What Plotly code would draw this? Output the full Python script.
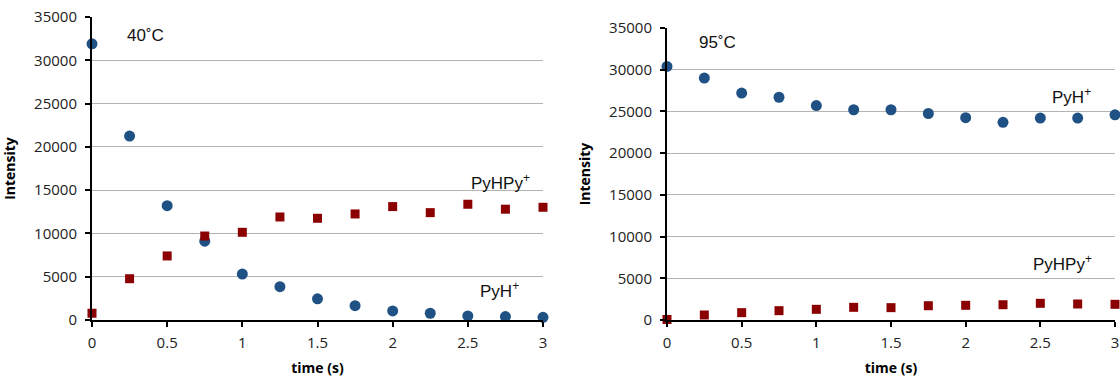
import plotly.graph_objects as go

time = [0, 0.25, 0.5, 0.75, 1, 1.25, 1.5, 1.75, 2, 2.25, 2.5, 2.75, 3]

pyh_40 = [31900, 21250, 13200, 9100, 5300, 3850, 2450, 1650, 1050, 780, 470, 390, 310]
pyhpy_40 = [780, 4770, 7400, 9700, 10130, 11900, 11750, 12250, 13100, 12400, 13370, 12800, 13020]

pyh_95 = [30400, 29000, 27200, 26700, 25700, 25200, 25200, 24750, 24250, 23700, 24200, 24200, 24600]
pyhpy_95 = [60, 600, 880, 1120, 1280, 1520, 1480, 1710, 1760, 1830, 2000, 1920, 1880]

x_ticks = [0, 0.5, 1, 1.5, 2, 2.5, 3]
x_tick_labels = ["0", "0.5", "1", "1.5", "2", "2.5", "3"]
y_ticks = [0, 5000, 10000, 15000, 20000, 25000, 30000, 35000]
y_tick_labels = ["0", "5000", "10000", "15000", "20000", "25000", "30000", "35000"]

BLUE = "#1F5185"
RED = "#8B0000"

fig = go.Figure()

def add_series(x, y, sym, color, size, xa, ya):
    fig.add_trace(go.Scatter(
        x=x, y=y, mode="markers", xaxis=xa, yaxis=ya, cliponaxis=False,
        marker=dict(symbol=sym, color=color, size=size, line=dict(width=0)),
        showlegend=False))

add_series(time, pyh_40, "circle", BLUE, 11, "x", "y")
add_series(time, pyhpy_40, "square", RED, 9, "x", "y")
add_series(time, pyh_95, "circle", BLUE, 11, "x2", "y2")
add_series(time, pyhpy_95, "square", RED, 9, "x2", "y2")

tickfont = dict(family="'Open Sans', sans-serif", size=15, color="#222")
titlefont = dict(family="'Open Sans', sans-serif", size=14, color="#000")

xcommon = dict(range=[0, 3], tickvals=x_ticks, ticktext=x_tick_labels,
               showgrid=False, zeroline=False, showline=True, linecolor="#000",
               linewidth=2, ticks="outside", ticklen=5, tickwidth=1.5,
               tickcolor="#000", tickfont=tickfont, automargin=False,
               ticklabelstandoff=3, ticklabeloverflow="allow",
               title=dict(text="<b>time (s)</b>", font=titlefont))
ycommon = dict(range=[0, 35000], tickvals=y_ticks, ticktext=y_tick_labels,
               showgrid=True, gridcolor="#B4B4B4", gridwidth=1.2, zeroline=False,
               showline=True, linecolor="#000", linewidth=2, ticks="outside",
               ticklen=5, tickwidth=1.5, tickcolor="#000", tickfont=tickfont,
               automargin=False, ticklabelstandoff=5, ticklabeloverflow="allow",
               title=dict(text="<b>Intensity</b>", font=titlefont))

W, H = 1120, 377

def px_x(p):
    return p / W

def px_y(p):
    return (H - p) / H

fig.update_layout(
    width=W, height=H,
    margin=dict(l=0, r=0, t=0, b=0),
    paper_bgcolor="white", plot_bgcolor="white",
    xaxis=dict(xcommon, domain=[px_x(92), px_x(543)], anchor="y"),
    yaxis=dict(ycommon, domain=[px_y(320), px_y(17)], anchor="x"),
    xaxis2=dict(xcommon, domain=[px_x(667), px_x(1115)], anchor="y2"),
    yaxis2=dict(ycommon, domain=[px_y(320), px_y(28)], anchor="x2"),
)

annfont = dict(family="Liberation Sans, Arial, sans-serif", size=17, color="#111")
anns = [
    ("x", "y", 0.355, 32900, "40˚C"),
    ("x", "y", 2.72, 15950, "PyHPy<sup>+</sup>"),
    ("x", "y", 2.71, 3450, "PyH<sup>+</sup>"),
    ("x2", "y2", 0.34, 33300, "95˚C"),
    ("x2", "y2", 2.71, 26830, "PyH<sup>+</sup>"),
    ("x2", "y2", 2.65, 6830, "PyHPy<sup>+</sup>"),
]
for xr, yr, x, y, t in anns:
    fig.add_annotation(xref=xr, yref=yr, x=x, y=y, text=t, showarrow=False,
                       font=annfont, xanchor="center", yanchor="middle")

fig.write_html("out.html",
               config={"displayModeBar": False},
               post_script="document.body.style.margin='0px';"
                           "document.body.style.overflow='hidden';")
